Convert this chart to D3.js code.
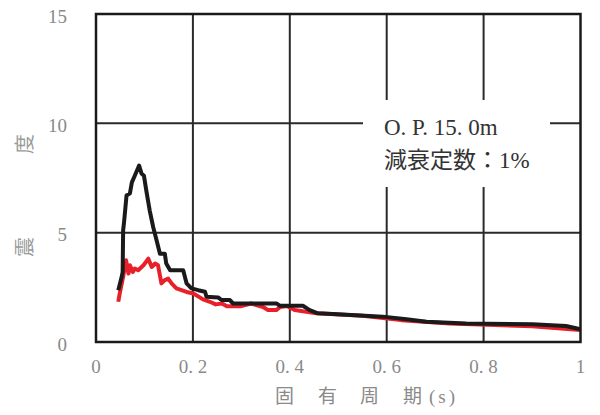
<!DOCTYPE html>
<html><head><meta charset="utf-8">
<script src="https://cdn.jsdelivr.net/npm/d3@7"></script>
<style>body{margin:0;background:#fff}svg{display:block}</style>
</head><body>
<svg id="c" width="600" height="415"></svg>
<script>
// natural period (s)
const blackPeriod = [0.046,0.053,0.055,0.056,0.058,0.063,0.070,0.074,0.080,0.089,0.094,0.099,0.104,0.111,0.118,0.125,0.132,0.142,0.145,0.153,0.180,0.187,0.197,0.211,0.225,0.228,0.252,0.259,0.276,0.283,0.373,0.379,0.427,0.441,0.458,0.489,0.592,0.641,0.682,0.764,0.901,0.970,1.0];
const blackValue  = [2.37,2.98,3.2,5.1,5.5,6.7,6.8,7.3,7.6,8.07,7.7,7.6,6.9,6.0,5.26,4.65,4.04,4.04,3.59,3.28,3.28,2.68,2.45,2.37,2.3,2.07,2.04,1.92,1.92,1.76,1.76,1.66,1.66,1.46,1.31,1.28,1.16,1.04,0.93,0.85,0.81,0.73,0.58];
const redPeriod = [0.046,0.049,0.056,0.062,0.067,0.070,0.076,0.080,0.087,0.098,0.108,0.115,0.122,0.128,0.135,0.142,0.149,0.156,0.166,0.187,0.201,0.221,0.235,0.247,0.26,0.27,0.30,0.32,0.345,0.355,0.372,0.38,0.395,0.41,0.455,0.55,0.63,0.73,0.90,1.0];
const redValue  = [1.84,2.22,2.98,3.74,3.13,3.51,3.2,3.36,3.28,3.51,3.81,3.43,3.59,3.51,2.68,2.83,2.9,2.68,2.45,2.29,2.22,1.95,1.84,1.72,1.76,1.64,1.64,1.76,1.6,1.46,1.46,1.6,1.64,1.46,1.31,1.2,1.0,0.85,0.72,0.55];
const xTicks = [0,0.2,0.4,0.6,0.8,1];
const xTickLabels = ["0","0. 2","0. 4","0. 6","0. 8","1"];
const yTicks = [0,5,10,15];
const yTickLabels = ["0","5","10","15"];
const legendLines = ["O. P. 15. 0m","減衰定数：1%"];
const xTitleParts = ["固","有","周","期","(s)"];
const yTitleParts = ["震","度"];

const svg = d3.select("#c");
const L=96, R=580.5, T=14, B=342;
const x = d3.scaleLinear().domain([0,1]).range([L,R]);
const y = d3.scaleLinear().domain([0,15]).range([B,T]);
const serif = "'Liberation Serif','Noto Sans CJK JP',serif";
const grey = "#8a8a8a";

// grid
const g = svg.append("g");
g.selectAll(".vx").data(xTicks.slice(1,-1)).join("line")
  .attr("x1",d=>x(d)).attr("x2",d=>x(d)).attr("y1",T).attr("y2",B)
  .attr("stroke","#2a2a2a").attr("stroke-width",2);
g.selectAll(".hy").data(yTicks.slice(1,-1)).join("line")
  .attr("y1",d=>y(d)).attr("y2",d=>y(d)).attr("x1",L).attr("x2",R)
  .attr("stroke","#2a2a2a").attr("stroke-width",2);

// legend box (white)
svg.append("rect").attr("x",363).attr("y",100).attr("width",187).attr("height",87).attr("fill","#fff");

// lines
const line = (px,pv)=>d3.line().x((d,i)=>x(px[i])).y((d,i)=>y(pv[i]))(pv);
svg.append("path").attr("d",line(redPeriod,redValue)).attr("fill","none")
  .attr("stroke","#e8202a").attr("stroke-width",4).attr("stroke-linejoin","round");
svg.append("path").attr("d",line(blackPeriod,blackValue)).attr("fill","none")
  .attr("stroke","#1a1a1a").attr("stroke-width",4).attr("stroke-linejoin","round");

// frame
svg.append("rect").attr("x",L).attr("y",T).attr("width",R-L).attr("height",B-T)
  .attr("fill","none").attr("stroke","#1a1a1a").attr("stroke-width",2.5);

// tick labels
svg.selectAll(".yt").data(yTicks).join("text")
  .attr("x",67).attr("y",d=>y(d)+2).attr("dy","0.35em").attr("text-anchor","end")
  .attr("font-family",serif).attr("font-size",19).attr("fill",grey)
  .text((d,i)=>yTickLabels[i]);
svg.selectAll(".xt").data(xTicks).join("text")
  .attr("x",d=>x(d)).attr("y",373).attr("text-anchor","middle")
  .attr("font-family",serif).attr("font-size",19).attr("fill",grey)
  .text((d,i)=>xTickLabels[i]);

// x title
const xt = svg.append("text").attr("y",403).attr("font-family",serif).attr("font-size",19).attr("fill",grey);
const xPos=[275,318,360,403,429];
xTitleParts.forEach((p,i)=>xt.append("tspan").attr("x",xPos[i]).attr("letter-spacing",i===4?3:0).text(p));

// y title (two rotated characters)
const yPos=[247,144];
svg.selectAll(".ytt").data(yTitleParts).join("text")
  .attr("transform",(d,i)=>`translate(25,${yPos[i]}) rotate(-90)`)
  .attr("text-anchor","middle").attr("dy","0.35em")
  .attr("font-family","'Noto Sans CJK JP',sans-serif")
  .attr("font-size",20).attr("fill","#999").text(d=>d);

// legend text
svg.selectAll(".lg").data(legendLines).join("text")
  .attr("x",384).attr("y",(d,i)=>135+i*33)
  .attr("font-family",serif).attr("font-size",23).attr("fill","#333")
  .text(d=>d);
</script>
</body></html>
